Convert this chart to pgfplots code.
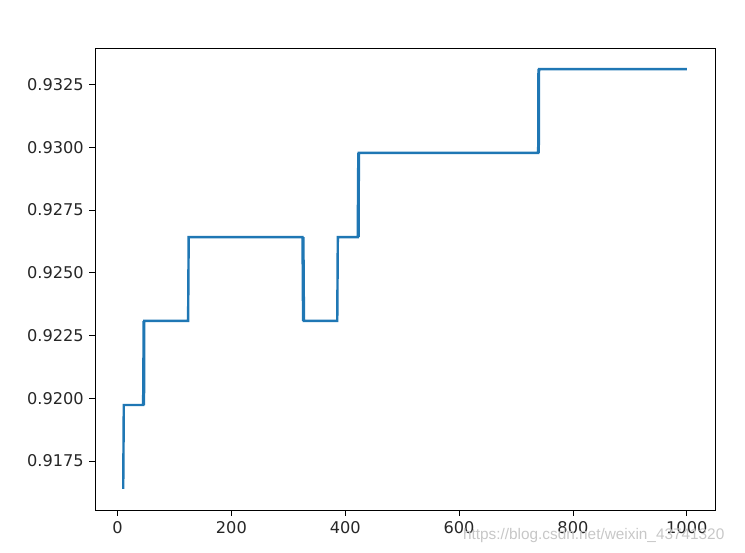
\documentclass[border=0pt]{standalone}
\usepackage{fontspec}
\setmainfont{DejaVu Sans}
\newfontfamily\wmfont{Liberation Sans}
\usepackage{pgfplots}
\pgfplotsset{compat=1.18}
\definecolor{mplblue}{HTML}{1F77B4}

\begin{document}
\begin{tikzpicture}[x=1pt,y=1pt]
% fixed page size: figure of 745x553 px
\path[use as bounding box] (-58.8pt,-26.6pt) rectangle (402.1pt,315.5pt);
\begin{axis}[
  at={(0,0)}, anchor=south west,
  scale only axis,
  width=383.5pt, height=285.8pt,
  xmin=-39.5, xmax=1049.5,
  ymin=0.91555, ymax=0.93395,
  xtick={0,200,400,600,800,1000},
  ytick={0.9175,0.92,0.9225,0.925,0.9275,0.93,0.9325},
  scaled y ticks=false,
  xticklabel style={/pgf/number format/.cd,1000 sep={}},
  yticklabel style={/pgf/number format/.cd,fixed,fixed zerofill,precision=4},
  /pgf/number format/assume math mode=true,
  tick label style={font=\fontsize{10}{12}\selectfont, black!85},
  tick align=outside,
  major tick length=3.5pt,
  tick style={black, line width=0.5pt},
  xtick pos=bottom, ytick pos=left,
  axis line style={black, line width=0.5pt},
  clip=false,
]
\addplot[mplblue, line width=1.5pt, line join=miter] coordinates {
  (10,0.91639) (11,0.91973) (45,0.91973) (46,0.92308) (46.5,0.91973) (47,0.92308)
  (124,0.92308) (125,0.92642) (325,0.92642) (326,0.92308) (326.5,0.92642) (327.5,0.92308)
  (386,0.92308) (387,0.92642) (422,0.92642) (423,0.92977) (423.5,0.92642) (424,0.92977)
  (739,0.92977) (739.5,0.93311) (740,0.92977) (740.5,0.93311) (1000,0.93311)
};
\end{axis}
\node[anchor=base west, text=black!22, font=\wmfont\fontsize{9.5}{11}\selectfont, inner sep=0pt]
  at (227.5pt,-18.3pt) {https://blog.csdn.net/weixin\_43741320};
\end{tikzpicture}
\end{document}
